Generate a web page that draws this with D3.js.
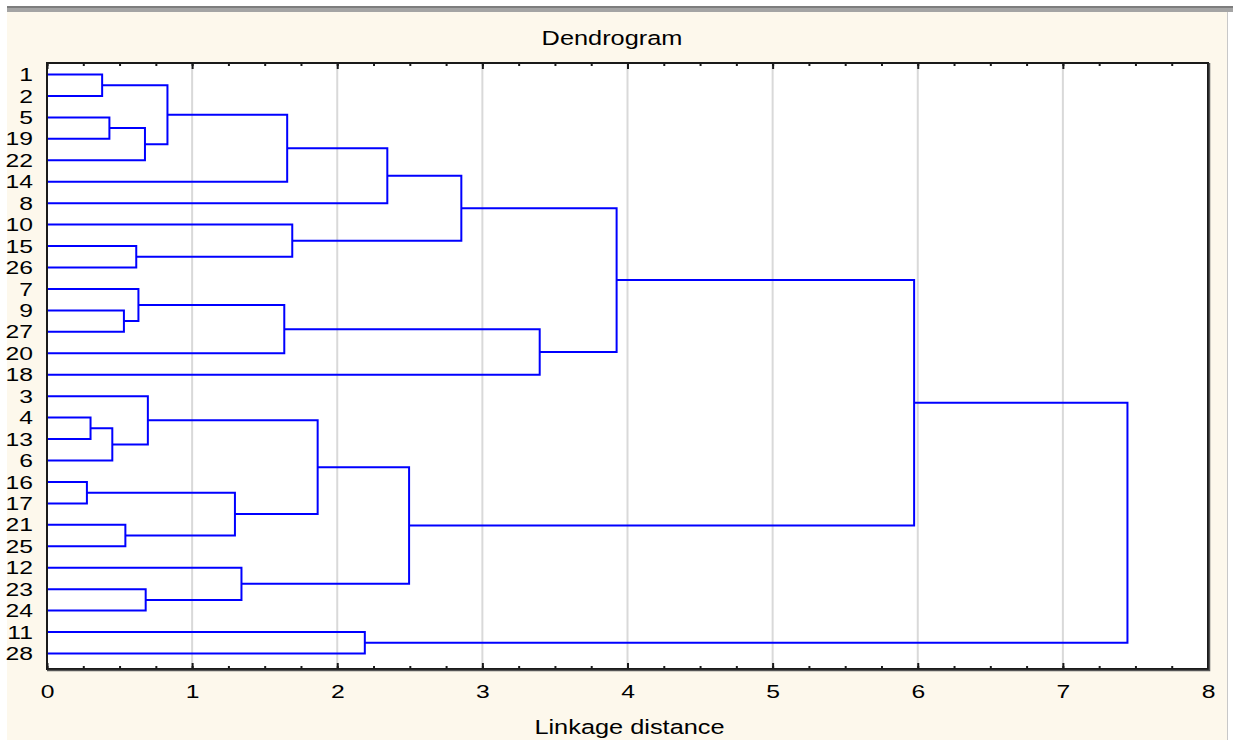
<!DOCTYPE html>
<html>
<head>
<meta charset="utf-8">
<script src="https://cdn.jsdelivr.net/npm/d3@7"></script>
<style>
  body { margin: 0; background: #fff; }
  text { font-family: "Liberation Sans", Arial, sans-serif; fill: #000; }
</style>
</head>
<body>
<div id="chart"></div>
<script>
// leaves, top to bottom
var leafLabels = ["1", "2", "5", "19", "22", "14", "8", "10", "15", "26", "7", "9", "27", "20", "18",
  "3", "4", "13", "6", "16", "17", "21", "25", "12", "23", "24", "11", "28"];

// joins: [child a, child b, linkage distance]; "mN" = result of join N
var merges = [
  ["1", "2", 0.38],       // m0
  ["5", "19", 0.43],      // m1
  ["m1", "22", 0.675],    // m2
  ["m0", "m2", 0.83],     // m3
  ["m3", "14", 1.655],    // m4
  ["m4", "8", 2.345],     // m5
  ["15", "26", 0.615],    // m6
  ["10", "m6", 1.69],     // m7
  ["m5", "m7", 2.855],    // m8
  ["9", "27", 0.53],      // m9
  ["7", "m9", 0.63],      // m10
  ["m10", "20", 1.635],   // m11
  ["m11", "18", 3.395],   // m12
  ["m8", "m12", 3.925],   // m13
  ["4", "13", 0.30],      // m14
  ["m14", "6", 0.45],     // m15
  ["3", "m15", 0.695],    // m16
  ["16", "17", 0.275],    // m17
  ["21", "25", 0.54],     // m18
  ["m17", "m18", 1.295],  // m19
  ["m16", "m19", 1.865],  // m20
  ["23", "24", 0.68],     // m21
  ["12", "m21", 1.34],    // m22
  ["m20", "m22", 2.495],  // m23
  ["m13", "m23", 5.975],  // m24
  ["11", "28", 2.19],     // m25
  ["m24", "m25", 7.445]   // m26
];

var xTicks = [0, 1, 2, 3, 4, 5, 6, 7, 8];
var gridTicks = [1, 2, 3, 4, 5, 6, 7];

var svgWidth = 1233;
var svgHeight = 744;
var margin = { top: 63, right: 25, bottom: 75, left: 47 };
var width = svgWidth - margin.left - margin.right;
var height = svgHeight - margin.top - margin.bottom;
var stretch = "scale(1.3,1)";   // source picture text is wide

var svg = d3.select("#chart").append("svg")
  .attr("width", svgWidth)
  .attr("height", svgHeight);

// window background
svg.append("rect").attr("x", 7).attr("y", 12).attr("width", 1220).attr("height", 728).attr("fill", "#fdf8ec");
svg.append("rect").attr("x", 7).attr("y", 6).attr("width", 1226).attr("height", 6).attr("fill", "#a4a4a4");
svg.append("rect").attr("x", 7).attr("y", 6).attr("width", 1226).attr("height", 2).attr("fill", "#7d7d7d");
svg.append("line").attr("x1", 1227.5).attr("x2", 1227.5).attr("y1", 12).attr("y2", 740)
  .attr("stroke", "#c8c8c8").attr("stroke-width", 1);

svg.append("text")
  .attr("transform", "translate(612,45) " + stretch)
  .attr("text-anchor", "middle")
  .style("font-size", "19.5px")
  .text("Dendrogram");

var chartGroup = svg.append("g")
  .attr("transform", `translate(${margin.left}, ${margin.top})`);

chartGroup.append("rect").attr("width", width).attr("height", height).attr("fill", "#fff");

var xScale = d3.scaleLinear().domain([0, 8]).range([0, width]);
var yScale = d3.scalePoint().domain(leafLabels).range([11.5, 590.5]);

// grid
chartGroup.selectAll(".grid").data(gridTicks).enter().append("line")
  .attr("x1", d => xScale(d)).attr("x2", d => xScale(d))
  .attr("y1", 0).attr("y2", height)
  .attr("stroke", "#d9d9d9").attr("stroke-width", 2);

// node positions
var pos = {};
leafLabels.forEach(function(l) { pos[l] = { h: 0, y: yScale(l) }; });
merges.forEach(function(m, i) {
  var a = pos[m[0]], b = pos[m[1]];
  pos["m" + i] = { h: m[2], y: (a.y + b.y) / 2 };
});

var links = chartGroup.append("g")
  .attr("fill", "none")
  .attr("stroke", "#0000ff")
  .attr("stroke-width", 2);

links.selectAll("path").data(merges).enter().append("path")
  .attr("d", function(m) {
    var a = pos[m[0]], b = pos[m[1]];
    var x = xScale(m[2]);
    return "M" + xScale(a.h) + "," + a.y + "H" + x + "V" + b.y + "H" + xScale(b.h);
  });

// axes
var bottomAxis = d3.axisBottom(xScale).tickValues(xTicks).tickSizeInner(-6).tickSizeOuter(0).tickPadding(16);
var bottomMinor = d3.axisBottom(xScale).tickValues(d3.range(0, 8.01, 0.25)).tickSizeInner(-3).tickSizeOuter(0).tickFormat("");
var topAxis = d3.axisTop(xScale).tickValues(xTicks).tickSizeInner(-6).tickSizeOuter(0).tickFormat("");
var topMinor = d3.axisTop(xScale).tickValues(d3.range(0, 8.01, 0.25)).tickSizeInner(-3).tickSizeOuter(0).tickFormat("");
var leftAxis = d3.axisLeft(yScale).tickSize(0).tickPadding(10.8);

function styleAxis(g) {
  g.select(".domain").remove();
  g.selectAll("line").attr("stroke", "#1a1a1a").attr("stroke-width", 2);
  g.selectAll("text").attr("transform", stretch).style("font-size", "19px").attr("fill", "#000");
  g.attr("font-family", null).attr("font-size", null);
}

chartGroup.append("g").attr("transform", `translate(0, ${height})`).call(bottomMinor).call(styleAxis);
chartGroup.append("g").attr("transform", `translate(0, ${height})`).call(bottomAxis).call(styleAxis);
chartGroup.append("g").call(topMinor).call(styleAxis);
chartGroup.append("g").call(topAxis).call(styleAxis);
chartGroup.append("g").call(leftAxis).call(styleAxis);

// frame
chartGroup.append("rect").attr("width", width).attr("height", height)
  .attr("fill", "none").attr("stroke", "#1a1a1a").attr("stroke-width", 2);
chartGroup.append("path")
  .attr("d", `M${width + 1.5},0V${height + 1.5}H0`)
  .attr("fill", "none").attr("stroke", "#555").attr("stroke-width", 1.5);

chartGroup.append("text")
  .attr("transform", `translate(${width / 2 + 2}, ${height + 65}) ` + stretch)
  .attr("text-anchor", "middle")
  .style("font-size", "19.5px")
  .text("Linkage distance");
</script>
</body>
</html>
